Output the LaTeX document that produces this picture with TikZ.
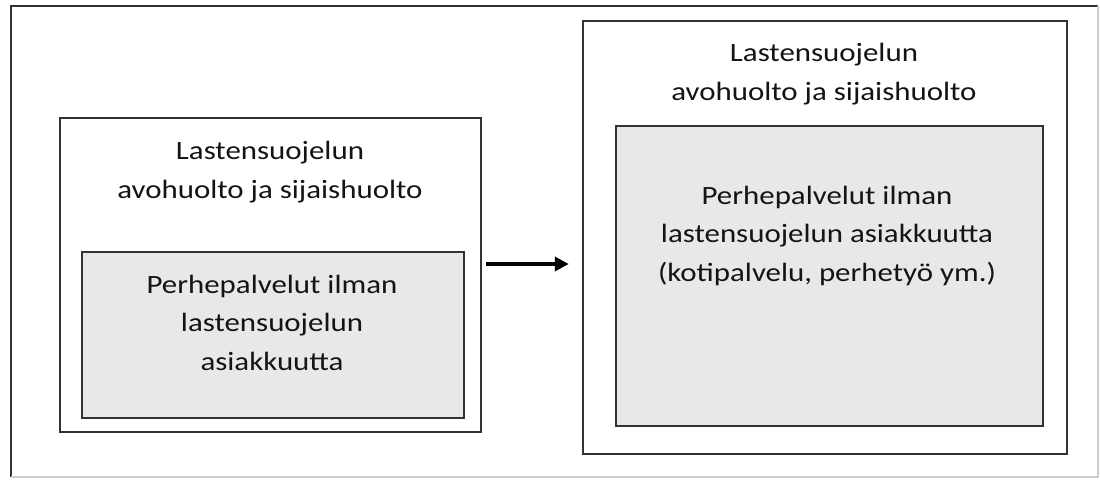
\documentclass[tikz,border=0pt]{standalone}
\usepackage{fontspec}
\setmainfont{Carlito}[FakeStretch=1.17]
\usetikzlibrary{positioning,fit,arrows.meta}

\begin{document}
\begin{tikzpicture}[x=0.5pt,y=-0.5pt,
    box/.style={draw=black!80,line width=1.2pt,inner sep=0pt,fill=white},
    graybox/.style={box,fill=gray!18},
    txt/.style={align=center,anchor=base,text=black!92,font=\fontsize{13.2}{19.2}\selectfont},
    arr/.style={-{Triangle[length=7pt,width=7pt]},line width=1.7pt}]
    \useasboundingbox (0,0) rectangle (1100,479);
    \draw[draw=black!80,line width=1pt] (11,477) -- (11,6) -- (1098,6);
    \draw[draw=black!20,line width=0.6pt] (1098,6) -- (1098,477) -- (11,477);
    \node[box,fit={(60,118) (481,432)}] (vanhaulko) {};
    \node[graybox,fit={(82,252) (464,418)}] (vanhaperhe) {};
    \node[box,fit={(583,21) (1067,454)}] (uusiulko) {};
    \node[graybox,fit={(616,126) (1043,426)}] (uusiperhe) {};
    \node[txt] (vanhaotsikko) at (270,198) {Lastensuojelun\\avohuolto ja sijaishuolto};
    \node[txt] (vanhateksti) at (272,370) {Perhepalvelut ilman\\lastensuojelun\\asiakkuutta};
    \node[txt] (uusiotsikko) at (824,100) {Lastensuojelun\\avohuolto ja sijaishuolto};
    \node[txt] (uusiteksti) at (827,281) {Perhepalvelut ilman\\lastensuojelun asiakkuutta\\(kotipalvelu, perhetyö ym.)};
    \draw[arr] ([xshift=2pt,yshift=5.5pt]vanhaulko.east) -- ([xshift=-6.5pt,yshift=-13.25pt]uusiulko.west);
\end{tikzpicture}
\end{document}
